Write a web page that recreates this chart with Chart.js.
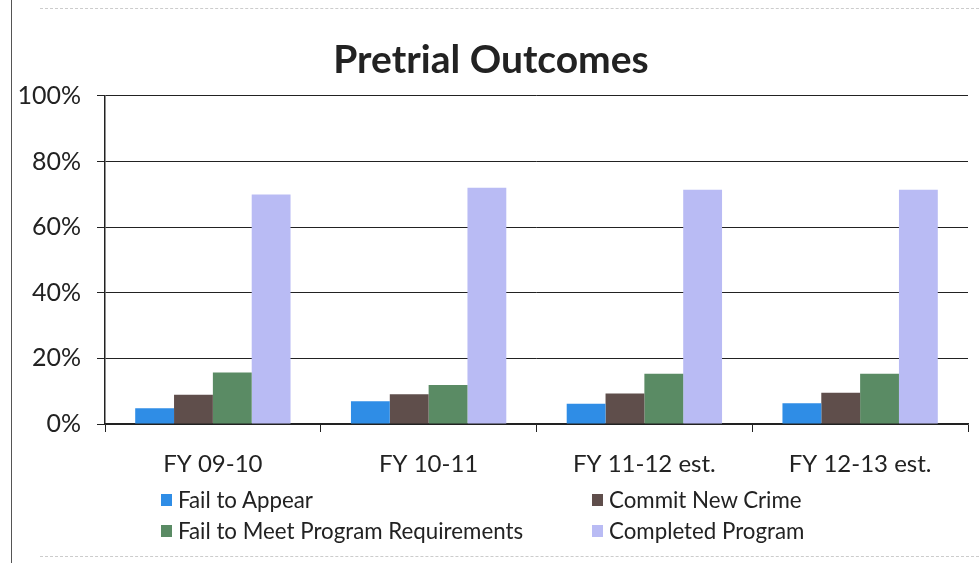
<!DOCTYPE html>
<html>
<head>
<meta charset="utf-8">
<script src="https://cdn.jsdelivr.net/npm/chart.js@4"></script>
<style>
    html, body { margin: 0; padding: 0; background: #fff; }
    #wrap { position: relative; width: 979px; height: 563px; overflow: hidden; }
    #frame { position: absolute; left: 11px; top: 0; width: 0; height: 563px; border-left: 1px solid #555; }
    #topline { position: absolute; left: 40px; right: 0; top: 8px; border-top: 1px dashed #ccc; }
    #botline { position: absolute; left: 40px; right: 0; top: 556px; border-top: 1px dashed #ccc; }
    #legend { position: absolute; left: 161px; top: 486px; width: 800px;
        display: grid; grid-template-columns: 431px 369px; row-gap: 4px;
        font-family: Lato, "Open Sans", sans-serif; font-size: 22.3px; color: #222; }
    .item { display: flex; align-items: center; height: 27px; }
    .box { width: 11px; height: 12px; margin-right: 6px; }
</style>
</head>
<body>
<div id="wrap">
    <canvas id="chart" width="979" height="563"></canvas>
    <div id="frame"></div>
    <div id="topline"></div>
    <div id="botline"></div>
    <div id="legend"></div>
</div>
<script>
"use strict";

// Dados
const categories = ["FY 09-10", "FY 10-11", "FY 11-12 est.", "FY 12-13 est."];
const seriesNames = ["Fail to Appear", "Commit New Crime", "Fail to Meet Program Requirements", "Completed Program"];
const failToAppear = [4.8, 6.9, 6.2, 6.3];
const commitNewCrime = [8.9, 9.1, 9.3, 9.5];
const failToMeet = [15.7, 11.9, 15.3, 15.3];
const completedProgram = [69.9, 72.0, 71.4, 71.4];
const yTicks = [0, 20, 40, 60, 80, 100];

const colors = ["#2f8de6", "#5f4e4b", "#5a8b64", "#b9bbf4"];
const seriesValues = [failToAppear, commitNewCrime, failToMeet, completedProgram];
const FONT = "Lato, 'Open Sans', sans-serif";

const ctx = document.getElementById("chart").getContext("2d");
const chart = new Chart(ctx, {
    type: "bar",
    data: {
        labels: categories,
        datasets: seriesNames.map((name, i) => ({
            label: name,
            data: seriesValues[i],
            backgroundColor: colors[i],
            borderWidth: 0
        }))
    },
    options: {
        responsive: false,
        animation: false,
        layout: { padding: { left: 14, right: 11, top: 0, bottom: 79 } },
        datasets: { bar: { categoryPercentage: 0.72, barPercentage: 1 } },
        plugins: {
            legend: { display: false },
            tooltip: { enabled: false },
            title: {
                display: true,
                text: "Pretrial Outcomes",
                color: "#222",
                font: { family: FONT, size: 39, weight: "bold" },
                padding: { top: 37, bottom: 12 }
            }
        },
        scales: {
            x: {
                grid: { drawOnChartArea: false, offset: true, tickLength: 8, color: "#222" },
                border: { color: "#222", width: 1.5 },
                ticks: { color: "#222", font: { family: FONT, size: 24 }, padding: 18 },
                afterFit: s => { s.height = 60; }
            },
            y: {
                min: 0,
                max: 100,
                afterBuildTicks: s => { s.ticks = yTicks.map(v => ({ value: v })); },
                grid: { color: "#222", lineWidth: 1, tickLength: 8 },
                border: { color: "#222", width: 1.5 },
                ticks: { color: "#222", font: { family: FONT, size: 25 }, padding: 16,
                    callback: v => v + "%" },
                afterFit: s => { s.width = 91; }
            }
        }
    }
});

// Legenda em duas colunas, montada a partir dos datasets
const legend = document.getElementById("legend");
chart.data.datasets.forEach(ds => {
    const item = document.createElement("div");
    item.className = "item";
    const box = document.createElement("span");
    box.className = "box";
    box.style.background = ds.backgroundColor;
    const txt = document.createElement("span");
    txt.textContent = ds.label;
    item.appendChild(box);
    item.appendChild(txt);
    legend.appendChild(item);
});
</script>
</body>
</html>
